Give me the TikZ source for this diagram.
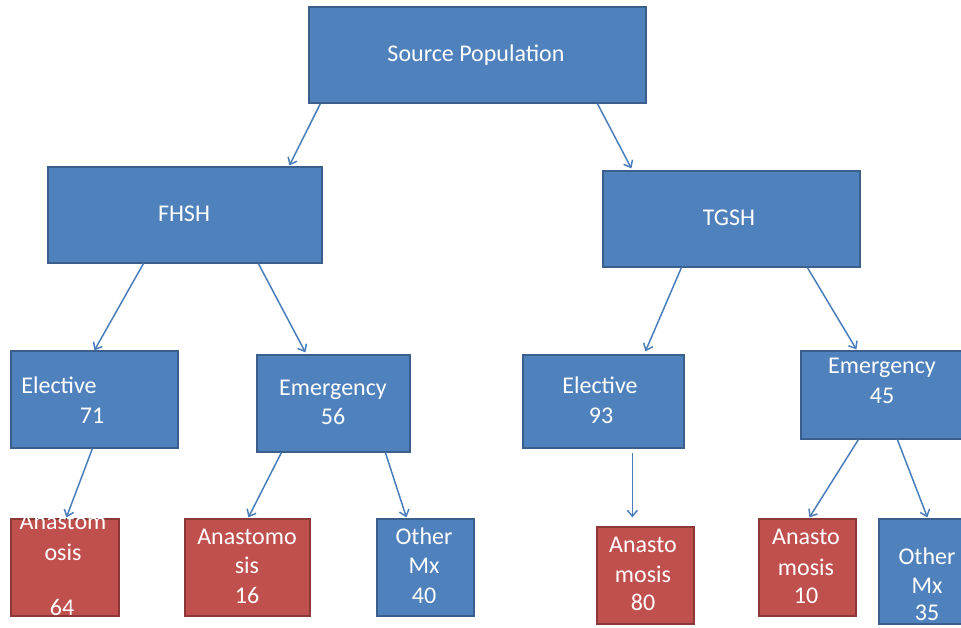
\documentclass[tikz,border=0pt]{standalone}
\usepackage{fontspec}
\setmainfont{Carlito}
\usetikzlibrary{arrows.meta}
\definecolor{boxblue}{HTML}{4F81BD}
\definecolor{boxblueline}{HTML}{3A5F8C}
\definecolor{boxred}{HTML}{C0504D}
\definecolor{boxredline}{HTML}{8C3836}
\definecolor{arrowblue}{HTML}{4A7EBB}
\tikzset{
  bluebox/.style={rectangle, draw=boxblueline, fill=boxblue, line width=1.2pt, inner sep=0pt},
  redbox/.style={rectangle, draw=boxredline, fill=boxred, line width=1.2pt, inner sep=0pt},
  boxtext/.style={anchor=base, text=white, inner sep=0pt, font=\fontsize{24}{30}\selectfont},
  conn/.style={draw=arrowblue, line width=1.5pt, -{Straight Barb[length=6pt,width=10pt,line width=1.5pt]}}
}
\begin{document}
\begin{tikzpicture}[x=1pt,y=-1pt]
\useasboundingbox (0,0) rectangle (961,628);
\clip (0,0) rectangle (961,628);
% boxes
\node[bluebox, minimum width=337pt, minimum height=96pt] (src) at (477.5,55) {};
\node[bluebox, minimum width=274pt, minimum height=96pt] (fhsh) at (185,215) {};
\node[bluebox, minimum width=257pt, minimum height=96pt] (tgsh) at (731.5,219) {};
\node[bluebox, minimum width=167pt, minimum height=97pt] (elL) at (94.5,399.5) {};
\node[bluebox, minimum width=153pt, minimum height=97pt] (emL) at (333.5,403.5) {};
\node[bluebox, minimum width=161pt, minimum height=93pt] (elR) at (603.5,401.5) {};
\node[bluebox, minimum width=163pt, minimum height=88pt] (emR) at (882.5,395) {};
\node[redbox, minimum width=108pt, minimum height=97pt] (a64) at (65,567.5) {};
\node[redbox, minimum width=125pt, minimum height=97pt] (a16) at (247.5,567.5) {};
\node[bluebox, minimum width=97pt, minimum height=97pt] (o40) at (425.5,567.5) {};
\node[redbox, minimum width=97pt, minimum height=97pt] (a80) at (645.5,575.5) {};
\node[redbox, minimum width=97pt, minimum height=97pt] (a10) at (807.5,567.5) {};
\node[bluebox, minimum width=96pt, minimum height=105pt] (o35) at (927,571.5) {};
% texts
\node[boxtext] (tsrc) at (476,62) {Source Population};
\node[boxtext] (tfhsh) at (184,222) {FHSH};
\node[boxtext] (ttgsh) at (729,226) {TGSH};
\node[boxtext] (telL1) at (59,393) {Elective};
\node[boxtext] (telL2) at (92,423) {71};
\node[boxtext] (temL1) at (333,395) {Emergency};
\node[boxtext] (temL2) at (333,424) {56};
\node[boxtext] (telR1) at (600,393) {Elective};
\node[boxtext] (telR2) at (601,423) {93};
\node[boxtext] (temR1) at (882,373) {Emergency};
\node[boxtext] (temR2) at (882,403) {45};
\node[boxtext] (ta64a) at (63,529) {Anastom};
\node[boxtext] (ta64b) at (63,560) {osis};
\node[boxtext] (ta64c) at (62,615) {64};
\node[boxtext] (ta16a) at (247,544) {Anastomo};
\node[boxtext] (ta16b) at (247,573) {sis};
\node[boxtext] (ta16c) at (247,603) {16};
\node[boxtext] (to40a) at (424,544) {Other};
\node[boxtext] (to40b) at (424,573) {Mx};
\node[boxtext] (to40c) at (424,603) {40};
\node[boxtext] (ta80a) at (643,552) {Anasto};
\node[boxtext] (ta80b) at (643,582) {mosis};
\node[boxtext] (ta80c) at (643,610) {80};
\node[boxtext] (ta10a) at (806,544) {Anasto};
\node[boxtext] (ta10b) at (806,575) {mosis};
\node[boxtext] (ta10c) at (806,603) {10};
\node[boxtext] (to35a) at (927,564) {Other};
\node[boxtext] (to35b) at (927,593) {Mx};
\node[boxtext] (to35c) at (927,620) {35};
% connectors
\draw[conn] ([xshift=12pt]src.south west) -- ([xshift=242pt,yshift=1pt]fhsh.north west);
\draw[conn] ([xshift=289pt]src.south west) -- ([xshift=29pt,yshift=2pt]tgsh.north west);
\draw[conn] ([xshift=96pt]fhsh.south west) -- ([xshift=84pt]elL.north west);
\draw[conn] ([xshift=211pt]fhsh.south west) -- ([xshift=49pt,yshift=2pt]emL.north west);
\draw[conn] ([xshift=79pt]tgsh.south west) -- ([xshift=123pt,yshift=3pt]elR.north west);
\draw[conn] ([xshift=205pt]tgsh.south west) -- ([xshift=56pt,yshift=1pt]emR.north west);
\draw[conn] ([xshift=82pt]elL.south west) -- ([xshift=56pt,yshift=1pt]a64.north west);
\draw[conn] ([xshift=25pt]emL.south west) -- ([xshift=64pt,yshift=1pt]a16.north west);
\draw[conn] ([xshift=129pt]emL.south west) -- ([xshift=30pt,yshift=1pt]o40.north west);
\draw[conn] ([xshift=110pt,yshift=-4pt]elR.south west) -- ([xshift=36pt,yshift=9pt]a80.north west);
\draw[conn] ([xshift=58pt]emR.south west) -- ([xshift=51pt,yshift=1pt]a10.north west);
\draw[conn] ([xshift=97pt]emR.south west) -- ([xshift=49pt,yshift=1pt]o35.north west);
\end{tikzpicture}
\end{document}
